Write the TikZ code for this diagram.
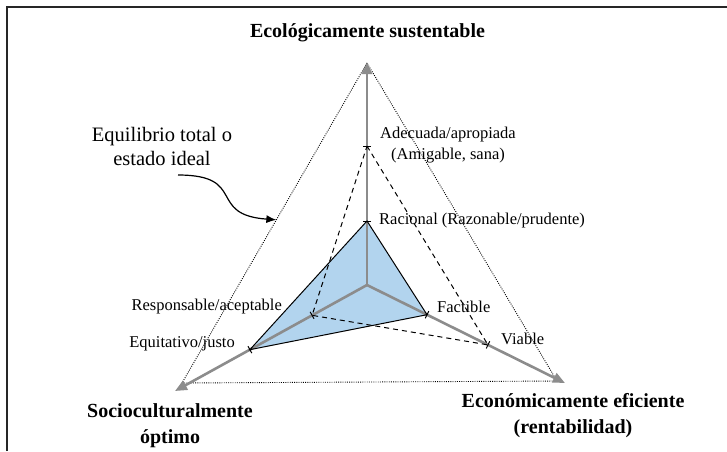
\documentclass[tikz,border=0pt]{standalone}
\usepackage{fontspec}
\setmainfont{Liberation Serif}
\usetikzlibrary{arrows.meta,calc}
\definecolor{flaeche}{RGB}{178,212,238}
\definecolor{achse}{RGB}{140,140,140}

\begin{document}
\begin{tikzpicture}[x=1pt,y=-1pt]
    \tikzset{achsen/.style={draw=achse, line width=2.6pt, -{Triangle[length=12pt,width=10pt]}},
        strich/.style={draw=black, line width=1pt},
        punktiert/.style={dash pattern=on 0.9pt off 1.3pt, line width=0.9pt},
        txt/.style={font=\fontsize{16.5}{21}\selectfont, inner sep=0pt},
        pol/.style={font=\fontsize{20}{26}\selectfont\bfseries, inner sep=0pt, align=center}}
    \useasboundingbox (0,0) rectangle (727,451);
    %Rahmen
    \draw[line width=1.5pt, black!85] (7,451) -- (7,7) -- (727,7);

    %Achsen
    \coordinate (O) at (367,285);
    \coordinate (aTop) at (367,62);
    \coordinate (aLeft) at (175,391);
    \coordinate (aRight) at (565,383);
    \coordinate (vTop) at (367,63);
    \coordinate (vLeft) at (182,383);
    \coordinate (vRight) at (557,381);

    %Punkte
    \coordinate (pRac) at ($(O)!0.287!(aTop)$);
    \coordinate (pAdec) at ($(O)!0.623!(aTop)$);
    \coordinate (pFac) at ($(O)!0.303!(aRight)$);
    \coordinate (pVia) at ($(O)!0.611!(aRight)$);
    \coordinate (pResp) at ($(O)!0.286!(aLeft)$);
    \coordinate (pEqui) at ($(O)!0.61!(aLeft)$);

    \fill[flaeche] (pRac) -- (pFac) -- (pEqui) -- cycle;
    \draw[punktiert] (vTop) -- (vLeft) -- (vRight) -- cycle;
    \foreach \z in {aTop,aLeft,aRight}
        \draw[achsen] (O) -- (\z);
    \draw[line width=1pt] (pRac) -- (pFac) -- (pEqui) -- cycle;
    \draw[dashed, dash pattern=on 5pt off 4pt, line width=1pt] (pAdec) -- (pVia) -- (pResp) -- cycle;
    \foreach \p in {pAdec,pRac,pFac,pVia,pResp,pEqui}
        \draw[strich] ($(\p)!4pt!90:(O)$) -- ($(\p)!4pt!-90:(O)$);

    %Beschriftung (base = letzte Zeile)
    \node[pol, anchor=base] (tEco) at (367.5,37) {Ecológicamente sustentable};
    \node[pol, anchor=base] (tSoc) at (170,443) {Socioculturalmente\\óptimo};
    \node[pol, anchor=base] (tEcon) at (573,433) {Económicamente eficiente\\(rentabilidad)};
    \node[txt, anchor=base, align=center] (lAdec) at (448,159) {Adecuada/apropiada\\(Amigable, sana)};
    \node[txt, anchor=base west] (lRac) at (379,224) {Racional (Razonable/prudente)};
    \node[txt, anchor=base west] (lFac) at (437,312) {Factible};
    \node[txt, anchor=base west] (lVia) at (501,344) {Viable};
    \node[txt, anchor=base east] (lResp) at (282,310) {Responsable/aceptable};
    \node[txt, anchor=base east] (lEqui) at (235,347) {Equitativo/justo};
    \node[txt, font=\fontsize{20.5}{23.5}\selectfont, anchor=base, align=center] (lEquil) at (162,165) {Equilibrio total o\\estado ideal};

    %Pfeil
    \coordinate (cStart) at (178,175);
    \coordinate (cEnd) at ($(vTop)!0.49!(vLeft)$);
    \draw[-{Latex[length=10pt,width=8pt]}, line width=1.2pt] (cStart) .. controls +(70,0) and +(-70,-5) .. (cEnd);
\end{tikzpicture}
\end{document}
